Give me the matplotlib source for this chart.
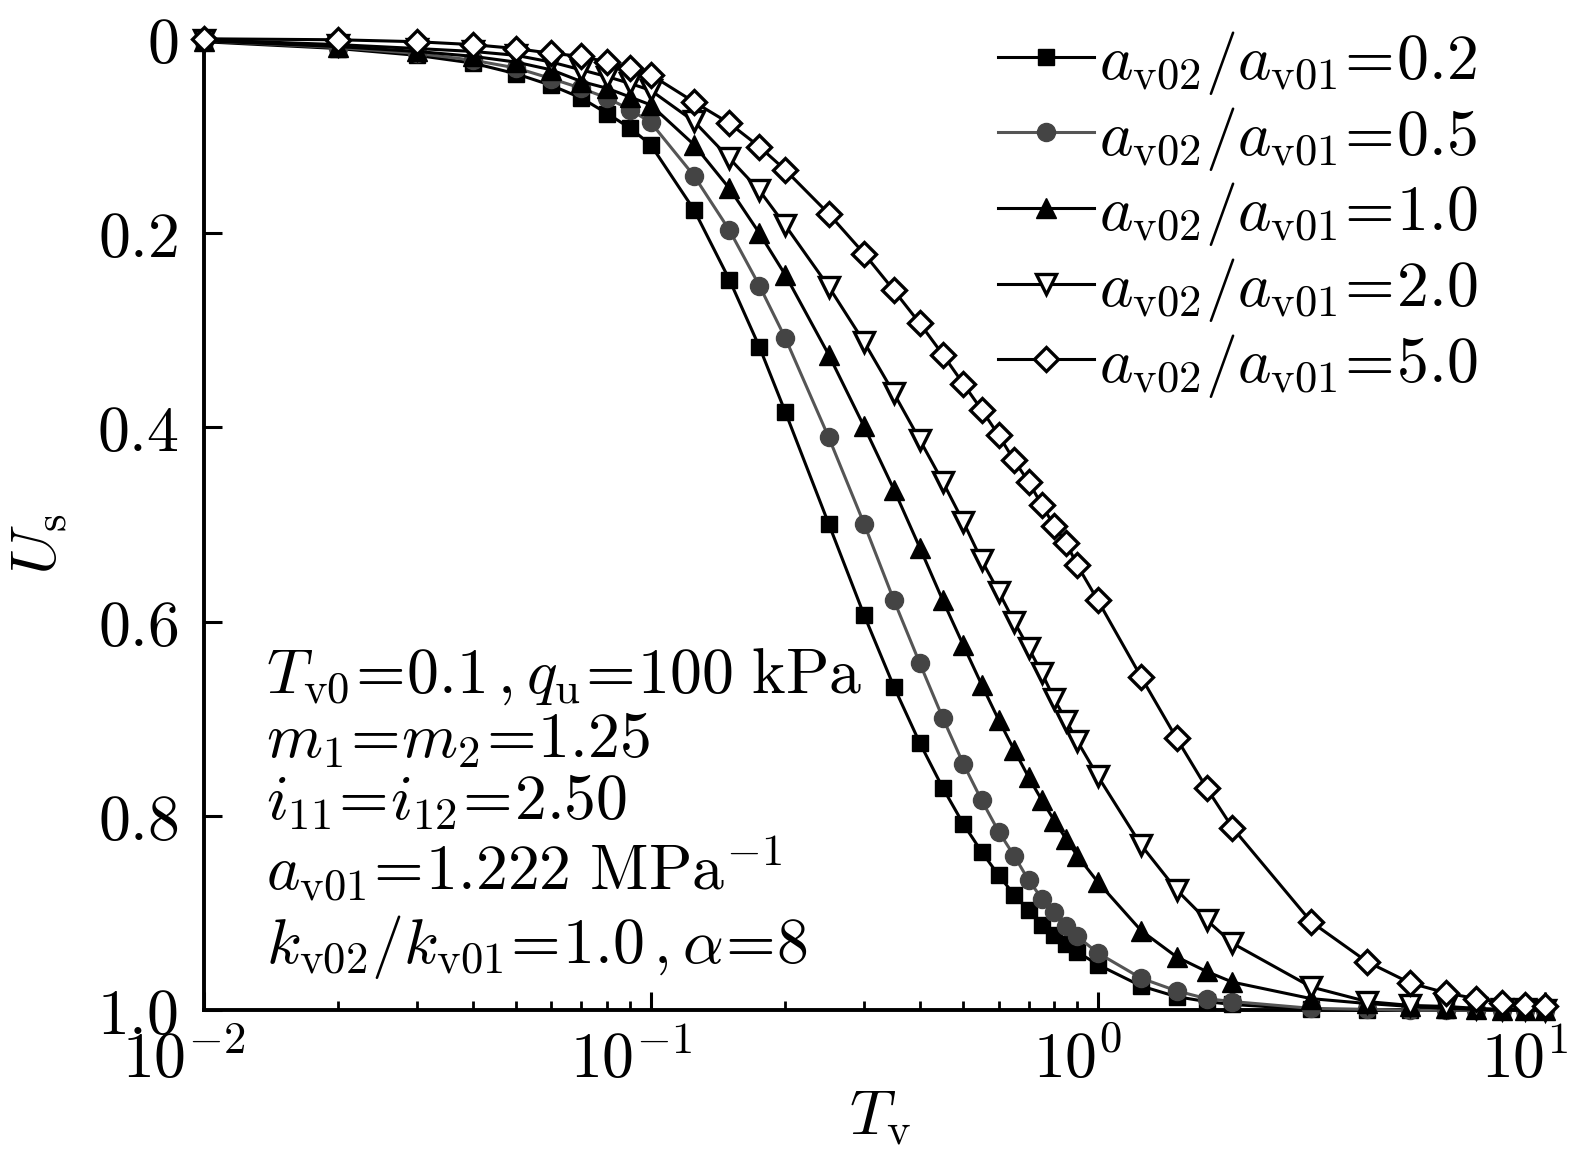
import matplotlib
matplotlib.use("Agg")
import matplotlib.pyplot as plt
import matplotlib.transforms as mtransforms
from matplotlib.ticker import FixedLocator, FixedFormatter, NullFormatter

plt.rcParams["mathtext.fontset"] = "cm"
plt.rcParams["font.family"] = ["DejaVu Serif"]

# time factor T_v (same for every curve)
tv = [0.01, 0.02, 0.03, 0.04, 0.05, 0.06, 0.07, 0.08, 0.09, 0.1,
      0.125, 0.15, 0.175, 0.2, 0.25, 0.3, 0.35, 0.4, 0.45, 0.5,
      0.55, 0.6, 0.65, 0.7, 0.75, 0.8, 0.85, 0.9, 1.0, 1.25,
      1.5, 1.75, 2.0, 3, 4, 5, 6, 7, 8, 9, 10]

# degree of consolidation U_s
us_02 = [0.003, 0.010, 0.017, 0.025, 0.036, 0.048, 0.061, 0.077, 0.092, 0.109,
         0.176, 0.248, 0.317, 0.384, 0.499, 0.593, 0.667, 0.725, 0.771, 0.808,
         0.837, 0.861, 0.881, 0.897, 0.912, 0.922, 0.932, 0.940, 0.953, 0.975,
         0.986, 0.991, 0.994, 0.999, 1.0, 1.0, 1.0, 1.0, 1.0, 1.0, 1.0]
us_05 = [0.002, 0.009, 0.015, 0.022, 0.030, 0.041, 0.051, 0.061, 0.073, 0.086,
         0.141, 0.197, 0.254, 0.308, 0.410, 0.499, 0.578, 0.643, 0.699, 0.746,
         0.784, 0.816, 0.841, 0.866, 0.885, 0.899, 0.913, 0.924, 0.941, 0.967,
         0.980, 0.988, 0.991, 0.998, 0.999, 1.0, 1.0, 1.0, 1.0, 1.0, 1.0]
us_10 = [0.002, 0.008, 0.013, 0.018, 0.024, 0.032, 0.044, 0.051, 0.060, 0.068,
         0.109, 0.154, 0.200, 0.243, 0.325, 0.399, 0.464, 0.524, 0.578, 0.624,
         0.665, 0.701, 0.732, 0.760, 0.784, 0.805, 0.824, 0.841, 0.868, 0.918,
         0.945, 0.960, 0.971, 0.988, 0.993, 0.996, 0.998, 0.999, 1.0, 1.0, 1.0]
us_20 = [0.001, 0.006, 0.010, 0.013, 0.017, 0.024, 0.032, 0.039, 0.046, 0.053,
         0.085, 0.123, 0.156, 0.192, 0.255, 0.312, 0.365, 0.413, 0.456, 0.497,
         0.537, 0.569, 0.600, 0.627, 0.653, 0.680, 0.702, 0.723, 0.759, 0.830,
         0.876, 0.907, 0.931, 0.976, 0.991, 0.995, 0.996, 0.998, 0.999, 0.999, 1.0]
us_50 = [0.000, 0.001, 0.003, 0.006, 0.010, 0.015, 0.018, 0.024, 0.030, 0.037,
         0.065, 0.087, 0.111, 0.135, 0.180, 0.221, 0.259, 0.293, 0.325, 0.355,
         0.382, 0.408, 0.434, 0.456, 0.480, 0.502, 0.519, 0.542, 0.578, 0.657,
         0.720, 0.771, 0.812, 0.909, 0.950, 0.972, 0.982, 0.988, 0.992, 0.995, 0.996]

ratios = ["0.2", "0.5", "1.0", "2.0", "5.0"]
curves = [us_02, us_05, us_10, us_20, us_50]
markers = ["s", "o", "^", "v", "D"]
msizes = [12, 13, 15, 14, 12]
faces = ["black", "#444444", "black", "white", "white"]
edges = ["black", "#444444", "black", "black", "black"]
lcolors = ["black", "#555555", "black", "black", "black"]
medge_w = [1, 1, 1, 2.4, 2.4]

yticks = [0, 0.2, 0.4, 0.6, 0.8, 1.0]
ytick_text = ["0", "0.2", "0.4", "0.6", "0.8", "1.0"]
xticks = [0.01, 0.1, 1, 10]
xtick_text = [r"$10^{-2}$", r"$10^{-1}$", r"$10^{0}$", r"$10^{1}$"]

note_lines = [r"$T_{\mathrm{v0}}\!=\!0.1\,,q_{\mathrm{u}}\!=\!100\ \mathrm{kPa}$",
              r"$m_1\!=\!m_2\!=\!1.25$",
              r"$i_{11}\!=\!i_{12}\!=\!2.50$",
              r"$a_{\mathrm{v01}}\!=\!1.222\ \mathrm{MPa}^{-1}$",
              r"$k_{\mathrm{v02}}/k_{\mathrm{v01}}\!=\!1.0\,,\alpha\!=\!8$"]
note_base = [693, 757, 819, 890, 963]

fs = 46
fig = plt.figure(figsize=(15.8, 11.7), dpi=100)
ax = fig.add_axes([203.5 / 1580, 1 - 1010.3 / 1170, 1341.5 / 1580, 971.5 / 1170])

for i in range(len(curves)):
    ax.plot(tv, curves[i], color=lcolors[i], lw=2.2, marker=markers[i],
            ms=msizes[i], mfc=faces[i], mec=edges[i], mew=medge_w[i],
            clip_on=False, zorder=3 + i,
            label=r"$a_{\mathrm{v02}}/a_{\mathrm{v01}}\!=\!" + ratios[i] + "$")

ax.set_xscale("log")
ax.set_xlim(0.01, 10)
ax.set_ylim(1.0, 0)

ax.xaxis.set_major_locator(FixedLocator(xticks))
ax.xaxis.set_major_formatter(FixedFormatter(xtick_text))
minor = [m * 10.0 ** e for e in (-2, -1, 0) for m in range(2, 10)]
ax.xaxis.set_minor_locator(FixedLocator(minor))
ax.xaxis.set_minor_formatter(NullFormatter())
ax.yaxis.set_major_locator(FixedLocator(yticks))
ax.yaxis.set_major_formatter(FixedFormatter(["$" + t + "$" for t in ytick_text]))

for s in ["top", "right"]:
    ax.spines[s].set_visible(False)
for s in ["left", "bottom"]:
    ax.spines[s].set_linewidth(2.8)

ax.tick_params(which="major", direction="in", length=13, width=2.2, labelsize=fs)
ax.tick_params(axis="x", which="minor", direction="in", length=6.5, width=2.0)
ax.tick_params(axis="y", pad=18)
ax.tick_params(axis="x", pad=14)

# the power labels sit a little left of their ticks in the reference
shift = mtransforms.ScaledTranslation(-0.2, 0, fig.dpi_scale_trans)
for lab in ax.get_xticklabels():
    lab.set_transform(lab.get_transform() + shift)

ax.set_xlabel(r"$T_{\mathrm{v}}$", fontsize=fs, va="center")
ax.xaxis.set_label_coords(0.504, -0.11)
ax.set_ylabel(r"$U_{\mathrm{s}}$", fontsize=fs, va="center")
ax.yaxis.set_label_coords(-0.122, 0.48)

for txt, yb in zip(note_lines, note_base):
    fig.text(266 / 1580, 1 - yb / 1170, txt, fontsize=fs, ha="left", va="baseline")

leg = ax.legend(loc="upper left", bbox_to_anchor=(0.592, 1.01), frameon=False,
                fontsize=fs, handlelength=1.5, handletextpad=0.08,
                labelspacing=0.12, borderpad=0, borderaxespad=0)

fig.savefig("out.png", dpi=100)
